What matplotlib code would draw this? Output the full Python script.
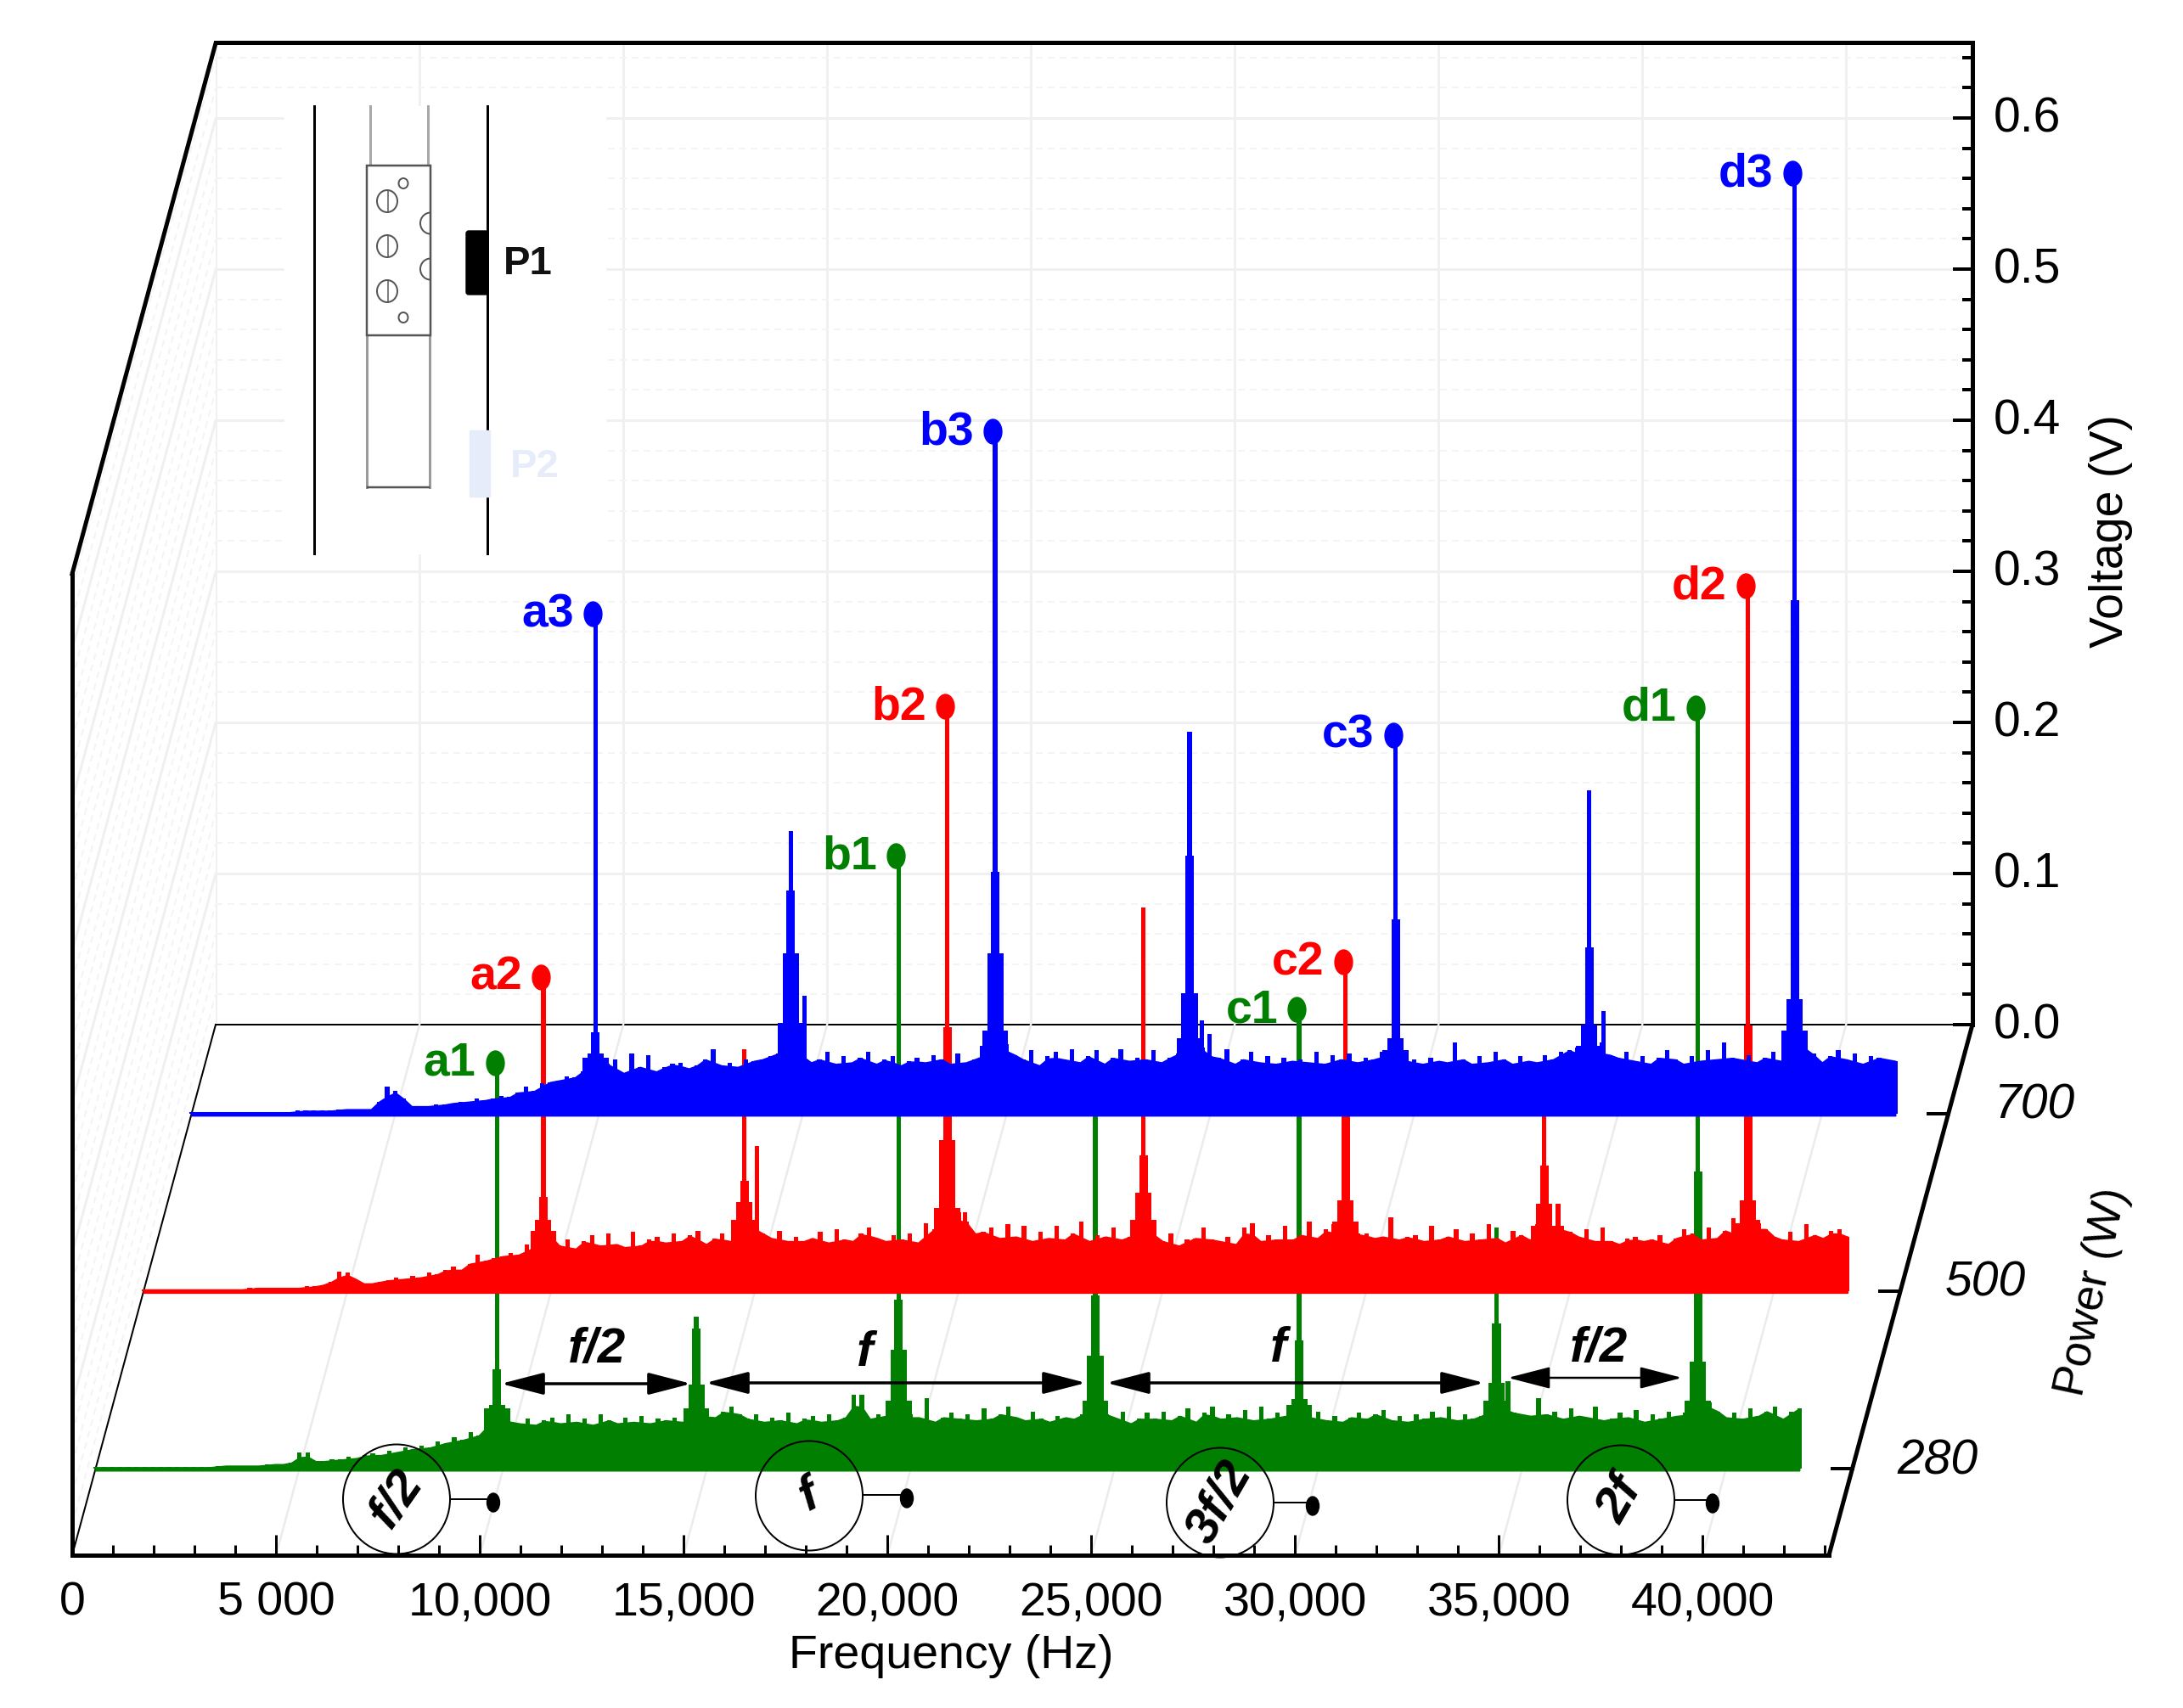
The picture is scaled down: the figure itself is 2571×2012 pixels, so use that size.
"""Waterfall spectra at three powers, drawn on an oblique 3D-looking frame."""
import matplotlib
matplotlib.use('Agg')
import matplotlib.pyplot as plt
from matplotlib.markers import MarkerStyle
from matplotlib.patches import Ellipse, Rectangle, FancyBboxPatch, Arc
from matplotlib.ticker import MultipleLocator
from matplotlib.transforms import Affine2D
import numpy as np

plt.rcParams['font.family'] = ['Liberation Sans', 'DejaVu Sans']

# noise envelope in mV, one value every 200 Hz from 0 to 41800 Hz
noise_step = 200
green_noise = [
    1, 1, 1, 1, 1, 1, 1, 1, 1, 1,
    1, 1, 1, 1, 1, 2, 2, 2, 2, 2,
    2, 3, 3, 3, 4, 11, 11, 5, 5, 6,
    6, 8, 7, 9, 10, 9, 12, 11, 14, 13,
    15, 14, 18, 17, 21, 19, 24, 22, 28, 33,
    34, 31, 30, 33, 29, 32, 34, 30, 36, 31,
    33, 29, 36, 32, 30, 34, 31, 35, 30, 33,
    32, 34, 31, 33, 35, 37, 34, 38, 41, 36,
    33, 36, 31, 34, 32, 37, 30, 33, 35, 31,
    36, 32, 34, 49, 49, 33, 36, 35, 37, 34,
    36, 34, 47, 31, 34, 37, 33, 36, 32, 40,
    33, 36, 41, 34, 32, 38, 33, 31, 35, 34,
    33, 36, 38, 44, 36, 34, 38, 30, 33, 37,
    33, 38, 32, 35, 40, 31, 37, 41, 33, 36,
    34, 39, 32, 41, 33, 37, 35, 40, 36, 34,
    38, 32, 35, 31, 34, 37, 33, 36, 39, 32,
    35, 31, 36, 33, 38, 34, 41, 32, 36, 33,
    35, 38, 41, 44, 37, 36, 35, 47, 36, 38,
    33, 40, 35, 34, 41, 32, 33, 37, 34, 39,
    31, 36, 33, 38, 35, 37, 36, 43, 44, 38,
    34, 37, 33, 40, 35, 38, 41, 33, 38, 40,
]
red_noise = [
    1, 1, 1, 1, 1, 1, 1, 1, 1, 1,
    1, 1, 1, 2, 2, 2, 2, 2, 2, 2,
    3, 3, 4, 6, 13, 12, 8, 5, 5, 6,
    7, 9, 8, 10, 9, 12, 11, 14, 16, 14,
    18, 24, 20, 22, 23, 25, 24, 31, 29, 44,
    36, 30, 34, 28, 33, 37, 30, 38, 31, 29,
    39, 30, 34, 36, 32, 38, 33, 37, 40, 31,
    35, 38, 33, 36, 44, 41, 38, 35, 40, 33,
    36, 33, 35, 39, 32, 41, 34, 33, 38, 42,
    35, 33, 37, 34, 38, 32, 45, 41, 40, 48,
    52, 46, 38, 39, 42, 35, 44, 36, 43, 33,
    39, 35, 43, 34, 38, 46, 33, 37, 36, 42,
    34, 36, 40, 47, 37, 33, 38, 30, 34, 35,
    42, 34, 33, 36, 31, 42, 45, 33, 37, 34,
    43, 34, 37, 46, 35, 41, 44, 36, 37, 38,
    38, 35, 36, 49, 34, 36, 37, 33, 43, 34,
    36, 41, 33, 38, 34, 44, 35, 32, 40, 37,
    34, 44, 38, 42, 43, 39, 36, 41, 33, 42,
    33, 31, 35, 36, 33, 34, 37, 31, 35, 41,
    38, 34, 42, 35, 40, 48, 36, 41, 47, 41,
    36, 34, 39, 33, 44, 37, 35, 40, 41, 36,
]
blue_noise = [
    1, 1, 1, 1, 1, 1, 1, 1, 1, 1,
    1, 1, 1, 2, 2, 2, 2, 2, 3, 3,
    3, 3, 3, 8, 18, 15, 10, 5, 5, 5,
    6, 6, 7, 8, 8, 10, 9, 10, 12, 11,
    14, 18, 15, 20, 21, 22, 25, 24, 28, 37,
    38, 33, 36, 27, 40, 31, 39, 28, 31, 33,
    34, 30, 32, 36, 43, 32, 34, 31, 36, 35,
    36, 38, 40, 44, 42, 38, 34, 36, 41, 33,
    38, 34, 37, 41, 33, 36, 38, 32, 35, 37,
    34, 39, 36, 33, 40, 34, 36, 45, 40, 44,
    46, 39, 36, 42, 32, 38, 41, 36, 43, 34,
    38, 42, 33, 37, 43, 35, 37, 36, 42, 34,
    37, 40, 42, 47, 44, 38, 37, 43, 33, 36,
    41, 34, 38, 33, 37, 35, 36, 34, 41, 33,
    39, 36, 40, 34, 37, 36, 41, 39, 38, 35,
    36, 33, 37, 35, 34, 47, 36, 33, 38, 34,
    41, 36, 33, 38, 35, 34, 39, 36, 41, 42,
    44, 38, 41, 47, 39, 37, 41, 35, 38, 33,
    37, 42, 36, 33, 38, 35, 42, 36, 47, 37,
    36, 39, 34, 37, 41, 35, 38, 46, 44, 40,
    34, 38, 42, 36, 40, 33, 38, 37, 36, 35,
]

# peak positions (Hz) and the heights (V) of the nested tiers of each peak
tier_widths = [110, 210, 400, 640]
green_peak_f = [9850, 14740, 19700, 24530, 29530, 34370, 39310]
green_peak_v = [
    [0.269, 0.066, 0.042, 0.040],
    [0.101, 0.093, 0.056, 0.040],
    [0.406, 0.112, 0.079, 0.045],
    [0.262, 0.115, 0.075, 0.045],
    [0.304, 0.085, 0.046, 0.042],
    [0.160, 0.096, 0.057, 0.045],
    [0.504, 0.197, 0.071, 0.045],
]
red_peak_f = [9806, 14740, 19720, 24530, 29485, 34360, 39360]
red_peak_v = [
    [0.208, 0.062, 0.047, 0.040],
    [0.160, 0.073, 0.059, 0.047],
    [0.387, 0.175, 0.100, 0.055],
    [0.254, 0.090, 0.065, 0.047],
    [0.218, 0.117, 0.060, 0.046],
    [0.125, 0.083, 0.058, 0.043],
    [0.467, 0.176, 0.060, 0.045],
]
blue_peak_f = [9910, 14700, 19717, 24485, 29540, 34290, 39330]
blue_peak_v = [
    [0.331, 0.054, 0.040, 0.037],
    [0.187, 0.148, 0.106, 0.060],
    [0.452, 0.160, 0.106, 0.055],
    [0.253, 0.171, 0.080, 0.050],
    [0.251, 0.129, 0.050, 0.042],
    [0.214, 0.110, 0.059, 0.045],
    [0.623, 0.340, 0.076, 0.055],
]
# narrow side spikes next to the main peaks
green_side_f = [34650]
green_side_v = [0.058]
red_side_f = [15050, 20150, 34700]
red_side_v = [0.096, 0.052, 0.058]
blue_side_f = [15040, 24790, 24980, 34640]
blue_side_v = [0.078, 0.062, 0.053, 0.068]

labelled_peaks = [0, 2, 4, 6]
green_labels = ['a1', 'b1', 'c1', 'd1']
red_labels = ['a2', 'b2', 'c2', 'd2']
blue_labels = ['a3', 'b3', 'c3', 'd3']

powers = ['280', '500', '700']
power_depth = [0.163, 0.498, 0.832]
series_colors = ['#007f00', '#ff0000', '#0000ff']

freq_ticks = [0, 5000, 10000, 15000, 20000, 25000, 30000, 35000, 40000]
freq_labels = ['0', '5 000', '10,000', '15,000', '20,000', '25,000', '30,000', '35,000', '40,000']
volt_ticks = [0.0, 0.1, 0.2, 0.3, 0.4, 0.5, 0.6]
freq_max = 43100
volt_max = 0.65

W, H = 2571, 2012
DEPTH_DX, DEPTH_DY = 169, 625
GRID = '#f0f0f0'
GRID_MINOR = '#f4f4f4'
px = 72 / 100  # one image pixel in points


def frame_rect(x0, x1, y_top, y_bottom):
    return [x0 / W, 1 - y_bottom / H, (x1 - x0) / W, (y_bottom - y_top) / H]


fig = plt.figure(figsize=(W / 100, H / 100), dpi=100, facecolor='white')

# front plane carries the frequency axis, back plane the voltage axis
back = fig.add_axes(frame_rect(254, 2323, 50, 1207), zorder=1)
ax = fig.add_axes(frame_rect(85, 2154, 676, 1832), zorder=2)
pix = fig.add_axes([0, 0, 1, 1], zorder=3)

for a in (ax, back):
    a.set_xlim(0, freq_max)
    a.set_ylim(0, volt_max)
ax.patch.set_alpha(0)
pix.patch.set_alpha(0)
pix.set_xlim(0, W)
pix.set_ylim(H, 0)
pix.axis('off')


def depth_trans(depth):
    return ax.transData + Affine2D().translate(DEPTH_DX * depth, DEPTH_DY * depth)


def depth_line(freq, volt, d0, d1, **kw):
    # straight line running from one depth to another at fixed freq and volt
    p0 = depth_trans(d0).transform((freq, volt))
    p1 = depth_trans(d1).transform((freq, volt))
    ax.plot([p0[0], p1[0]], [p0[1], p1[1]], transform=None, clip_on=False, **kw)


# back wall
back.set_xticks(freq_ticks)
back.set_xticklabels([])
back.tick_params(axis='x', length=0)
back.set_yticks(volt_ticks)
back.set_yticklabels([f'{v:.1f}' for v in volt_ticks])
back.yaxis.set_minor_locator(MultipleLocator(0.02))
back.yaxis.tick_right()
back.tick_params(axis='y', which='major', direction='in', length=23 * px, width=4 * px,
                 labelsize=41, pad=18)
back.tick_params(axis='y', which='minor', direction='in', length=12 * px, width=4 * px)
for lab in back.get_yticklabels():
    lab.set_transform(lab.get_transform() + Affine2D().translate(0, 5))
back.grid(True, which='major', color=GRID, linewidth=3 * px)
back.grid(True, which='minor', axis='y', color=GRID_MINOR, linewidth=2 * px, linestyle=(0, (4, 3)))
back.set_axisbelow(True)
back.spines['left'].set_visible(False)
back.spines['right'].set_linewidth(5 * px)
back.spines['top'].set_linewidth(5 * px)
back.spines['bottom'].set_linewidth(2 * px)

# front plane frame and frequency ticks
ax.set_xticks(freq_ticks)
ax.set_xticklabels(freq_labels)
ax.xaxis.set_minor_locator(MultipleLocator(1000))
ax.tick_params(axis='x', which='major', direction='in', length=24 * px, width=3 * px,
               labelsize=40, pad=22)
ax.tick_params(axis='x', which='minor', direction='in', length=12 * px, width=3 * px)
ax.set_yticks([])
ax.spines['top'].set_visible(False)
ax.spines['right'].set_visible(False)
ax.spines['left'].set_linewidth(5 * px)
ax.spines['bottom'].set_linewidth(5 * px)

# left wall and floor grid
for v in np.arange(0.02, volt_max, 0.02):
    is_major = abs(v * 10 - round(v * 10)) < 1e-6
    depth_line(0, v, 0, 1, color=GRID if is_major else GRID_MINOR, linewidth=(3 if is_major else 2) * px,
               linestyle='-' if is_major else (0, (4, 3)), zorder=0)
for f in freq_ticks[1:]:
    depth_line(f, 0, 0, 1, color='#ebebeb', linewidth=2.5 * px, zorder=0)

depth_line(0, 0, 0, 1, color='black', linewidth=2 * px, zorder=1)
depth_line(0, volt_max, 0, 1, color='black', linewidth=5 * px, zorder=5)
depth_line(freq_max, 0, 0, 1, color='black', linewidth=5 * px, zorder=5)

# spectra, back one drawn last so it covers the others
spectra = [
    (green_noise, green_peak_f, green_peak_v, green_side_f, green_side_v, green_labels),
    (red_noise, red_peak_f, red_peak_v, red_side_f, red_side_v, red_labels),
    (blue_noise, blue_peak_f, blue_peak_v, blue_side_f, blue_side_v, blue_labels),
]
ellipse_marker = MarkerStyle('o', transform=Affine2D().scale(0.72, 1))
for i, (noise, peak_f, peak_v, side_f, side_v, labels) in enumerate(spectra):
    color = series_colors[i]
    trans = depth_trans(power_depth[i])
    z = 3 + i * 0.1
    freqs = np.arange(len(noise)) * noise_step
    volts = np.array(noise) / 1000.0
    # solid band up to the mean of the neighbours, each reading as a thin spike on top
    floor = np.minimum(volts, (np.roll(volts, 1) + np.roll(volts, -1)) / 2)
    floor[0], floor[-1] = volts[0], volts[-1]
    ax.fill_between(freqs, -0.0012, floor, color=color, linewidth=1.5 * px, transform=trans,
                    clip_on=False, zorder=z)
    ax.bar(freqs, volts, width=tier_widths[0], color=color, linewidth=0, transform=trans,
           clip_on=False, zorder=z)
    for f, tiers in zip(peak_f, peak_v):
        for width, v in zip(tier_widths, tiers):
            ax.bar(f, v, width=width, color=color, linewidth=0, transform=trans, clip_on=False, zorder=z)
    ax.bar(side_f, side_v, width=tier_widths[0], color=color, linewidth=0, transform=trans,
           clip_on=False, zorder=z)
    for label, idx in zip(labels, labelled_peaks):
        f, v = peak_f[idx] - 60, peak_v[idx][0]
        ax.plot([f], [v], linestyle='none', marker=ellipse_marker, markersize=29 * px, color=color,
                transform=trans, clip_on=False, zorder=z + 0.05)
        ax.annotate(label, (f, v), xycoords=trans, xytext=(-22 * px, -1 * px), textcoords='offset points',
                    ha='right', va='center', color=color, fontsize=40, fontweight='bold', zorder=z + 0.05)

# power axis ticks
for power, d in zip(powers, power_depth):
    p0 = depth_trans(d).transform((freq_max - 500, 0))
    p1 = depth_trans(d).transform((freq_max, 0))
    ax.plot([p0[0], p1[0]], [p0[1], p1[1]], transform=None, color='black', linewidth=4 * px,
            clip_on=False, zorder=5)
    ax.annotate(power, (freq_max, 0), xycoords=depth_trans(d), xytext=(53 * px, 9 * px),
                textcoords='offset points', ha='left', va='center', fontsize=41, style='italic')

# axis titles
pix.text(1120, 1951, 'Frequency (Hz)', ha='center', va='center', fontsize=40)
pix.text(2486, 626, 'Voltage (V)', ha='center', va='center', rotation=90, fontsize=40)
pix.text(2464, 1522, 'Power (W)', ha='center', va='center', rotation=78, fontsize=38)

# harmonic spacing arrows
arrows = [(590, 814, 1630, 3.5), (831, 1279, 1629, 3.5), (1303, 1748, 1629, 3.5), (1776, 1981, 1623, 2.5)]
for x0, x1, y, lw in arrows:
    pix.annotate('', xy=(x1, y), xytext=(x0, y),
                 arrowprops=dict(arrowstyle='<|-|>,head_length=3.1,head_width=0.8', mutation_scale=10,
                                 color='black', linewidth=lw * px, shrinkA=0, shrinkB=0))
spacing_text = [('f/2', 703, 1590), ('f', 1019, 1594), ('f', 1506, 1589), ('f/2', 1883, 1589)]
for s, x, y in spacing_text:
    pix.text(x, y, s, ha='center', va='center', fontsize=42, fontweight='bold', style='italic')

# circled harmonic callouts
callouts = [('f/2', 467, 1766, 581, 1770, 55), ('f', 953, 1762, 1068, 1765, 28),
            ('3f/2', 1437, 1770, 1546, 1774, 60), ('2f', 1909, 1767, 2017, 1771, 60)]
for s, cx, cy, dot_x, dot_y, rot in callouts:
    pix.add_patch(Ellipse((cx, cy), 126, 129, fill=False, edgecolor='black', linewidth=2 * px, zorder=6))
    pix.plot([cx + 63, dot_x], [dot_y - 4, dot_y - 4], color='black', linewidth=2 * px, zorder=6)
    pix.add_patch(Ellipse((dot_x, dot_y), 15, 22, color='black', zorder=6))
    pix.text(cx, cy, s, ha='center', va='center', rotation=rot, fontsize=42, fontweight='bold', style='italic')

# inset sketch of the tube, magnet and pressure probes
pix.add_patch(Rectangle((335, 125), 378, 527, color='white', zorder=1))
for x in (370, 574):
    pix.plot([x, x], [125, 652], color='black', linewidth=3 * px, zorder=2)
for x in (436, 504):
    pix.plot([x, x], [125, 192], color='#a8a8a8', linewidth=3 * px, zorder=2)
for x in (432, 506):
    pix.plot([x, x], [395, 574], color='#9a9a9a', linewidth=3 * px, zorder=2)
pix.plot([433, 505], [574, 574], color='#555555', linewidth=2.5 * px, zorder=2)
pix.add_patch(Rectangle((432, 195), 75, 200, fill=False, edgecolor='#555555', linewidth=2.5 * px, zorder=2))
for y in (237, 290, 343):
    pix.add_patch(Ellipse((456, y), 24, 26, fill=False, edgecolor='#555555', linewidth=2 * px, zorder=2))
    pix.plot([457, 457], [y - 12, y + 12], color='#555555', linewidth=1.5 * px, zorder=2)
for y in (216, 374):
    pix.add_patch(Ellipse((475, y), 11, 12, fill=False, edgecolor='#555555', linewidth=2 * px, zorder=2))
for y in (263, 317):
    pix.add_patch(Arc((507, y), 24, 25, theta1=90, theta2=270, edgecolor='#555555', linewidth=2 * px, zorder=2))
pix.add_patch(FancyBboxPatch((552, 275), 20, 69, boxstyle='round,pad=3', color='black', zorder=3))
pix.add_patch(Rectangle((553, 507), 24, 78, color='#e6ecfa', zorder=3))
pix.text(622, 311, 'P1', ha='center', va='center', fontsize=34, fontweight='bold', color='#111111', zorder=4)
pix.text(630, 550, 'P2', ha='center', va='center', fontsize=34, fontweight='bold', color='#e6ecfa', zorder=4)

plt.savefig('out.png', dpi=100)
plt.close()
